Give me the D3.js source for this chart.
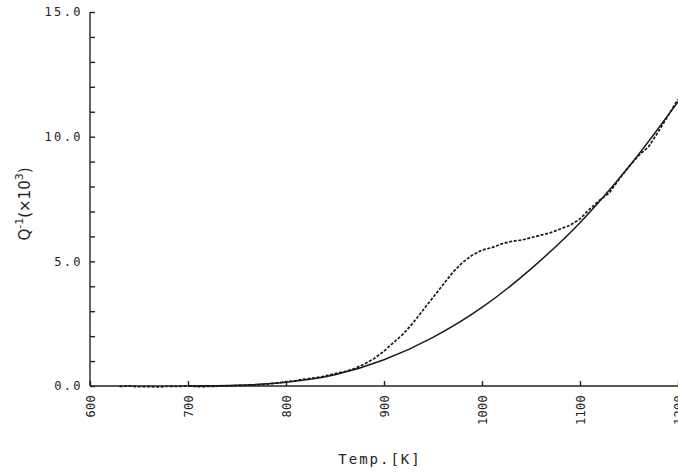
<!DOCTYPE html>
<html>
<head>
<meta charset="utf-8">
<script src="https://cdn.jsdelivr.net/npm/d3@7"></script>
<style>
  body { margin: 0; background: #fff; }
  .axis path, .axis line { stroke: #222; stroke-width: 1.4; }
  .axis text { font-family: "DejaVu Sans Mono", monospace; fill: #222; }
</style>
</head>
<body>
<div id="chart"></div>
<script>
// measured points (dotted trace) : temperature [K] and Q^-1 (x10^3)
const measTemp = [630, 640, 650, 660, 670, 680, 690, 700, 710, 720, 730, 740, 750, 760, 770, 780, 790,
  800, 810, 820, 830, 840, 850, 860, 870, 880, 890, 900, 910, 920, 930, 940, 950, 960, 970, 980, 990,
  1000, 1010, 1020, 1030, 1040, 1050, 1060, 1070, 1080, 1090, 1100, 1110, 1120, 1130, 1140, 1150,
  1160, 1170, 1180, 1190, 1200];
const measQ = [-0.02, 0.0, -0.03, -0.02, -0.04, -0.01, -0.02, 0.01, -0.03, -0.02, -0.01, 0.0, 0.02, 0.03,
  0.04, 0.07, 0.12, 0.17, 0.22, 0.28, 0.33, 0.40, 0.50, 0.58, 0.70, 0.88, 1.10, 1.40, 1.75, 2.10, 2.55,
  3.05, 3.55, 4.05, 4.55, 4.95, 5.25, 5.45, 5.55, 5.70, 5.80, 5.85, 5.95, 6.05, 6.15, 6.30, 6.45, 6.70,
  7.10, 7.45, 7.75, 8.30, 8.80, 9.25, 9.60, 10.20, 10.85, 11.50];

// background curve (solid line)
const bgTemp = [700, 750, 800, 850, 900, 950, 1000, 1050, 1100, 1150, 1200];
const bgQ = [0.0, 0.03, 0.15, 0.45, 1.05, 1.95, 3.15, 4.70, 6.55, 8.80, 11.40];

const xTicks = [600, 700, 800, 900, 1000, 1100, 1200];
const yTicks = d3.range(0, 16, 1);
const yLabelled = [0, 5, 10, 15];

const width = 678, height = 474;

const svg = d3.select('#chart').append('svg')
  .attr('width', width)
  .attr('height', height);

// scales
const x = d3.scaleLinear().domain([600, 1200]).range([90, 678]);
const y = d3.scaleLinear().domain([0, 15]).range([386, 12]);

// y-axis, ticks pointing inward
const yAxis = d3.axisLeft(y)
  .tickValues(yTicks)
  .tickSize(-5)
  .tickPadding(7)
  .tickFormat(d => yLabelled.includes(d) ? d3.format('.1f')(d) : '');

svg.append('g')
  .attr('class', 'axis')
  .attr('transform', `translate(${ x(600) }, 0)`)
  .call(yAxis)
  .call(g => g.select('.domain').attr('d', `M0,${ y(15) }V${ y(0) }`))
  .selectAll('text')
    .style('font-size', '12px')
    .style('letter-spacing', '2.4px');

// x-axis
const xAxis = d3.axisBottom(x)
  .tickValues(xTicks)
  .tickSize(-5)
  .tickFormat(d3.format('d'));

svg.append('g')
  .attr('class', 'axis')
  .attr('transform', `translate(0, ${ y(0) })`)
  .call(xAxis)
  .call(g => g.select('.domain').attr('d', `M${ x(600) },0H${ width }`))
  .selectAll('text')
    .attr('transform', 'rotate(-90)')
    .attr('x', -9)
    .attr('y', 0)
    .attr('dy', '.35em')
    .style('text-anchor', 'end')
    .style('font-size', '12px')
    .style('letter-spacing', '0.3px');

// background curve
const bgLine = d3.line()
  .x((d, i) => x(bgTemp[i]))
  .y(d => y(d))
  .curve(d3.curveMonotoneX);

svg.append('path')
  .datum(bgQ)
  .attr('d', bgLine)
  .attr('fill', 'none')
  .attr('stroke', '#1a1a1a')
  .attr('stroke-width', 1.5);

// measured trace, drawn as short dashes
const measLine = d3.line()
  .x((d, i) => x(measTemp[i]))
  .y(d => y(d));

svg.append('path')
  .datum(measQ)
  .attr('d', measLine)
  .attr('fill', 'none')
  .attr('stroke', '#1a1a1a')
  .attr('stroke-width', 1.7)
  .attr('stroke-dasharray', '3,1.6');

// axis titles
svg.append('text')
  .attr('x', 380)
  .attr('y', 464)
  .attr('text-anchor', 'middle')
  .style('font-family', '"DejaVu Sans Mono", monospace')
  .style('font-size', '14px')
  .style('letter-spacing', '2px')
  .style('fill', '#222')
  .text('Temp.[K]');

const yTitle = svg.append('text')
  .attr('transform', 'translate(30, 204) rotate(-90)')
  .attr('text-anchor', 'middle')
  .style('font-family', '"DejaVu Sans", sans-serif')
  .style('font-size', '15px')
  .style('fill', '#222');

yTitle.append('tspan').text('Q');
yTitle.append('tspan').attr('dy', -7).style('font-size', '11px').text('-1');
yTitle.append('tspan').attr('dy', 7).text('(\u00d710');
yTitle.append('tspan').attr('dy', -7).style('font-size', '11px').text('3');
yTitle.append('tspan').attr('dy', 7).text(')');
</script>
</body>
</html>
